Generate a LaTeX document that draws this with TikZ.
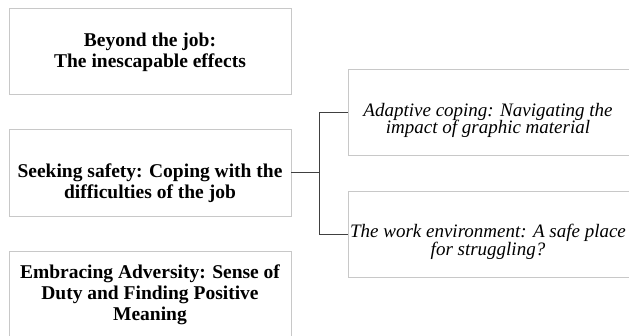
\documentclass[tikz,border=0pt]{standalone}
\usepackage{fontspec}
\setmainfont{Liberation Serif}
\definecolor{boxgray}{HTML}{C8C8C8}
\definecolor{linegray}{HTML}{404040}
\begin{document}
\begin{tikzpicture}[x=1pt,y=-1pt,
  box/.style={draw=boxgray,line width=0.9pt,inner sep=0pt,rectangle},
  bold/.style={font=\fontsize{19.5}{21}\selectfont\bfseries,align=center,inner sep=0pt},
  ital/.style={font=\fontsize{19}{17.5}\selectfont\itshape,align=center,inner sep=0pt},
  conn/.style={draw=linegray,line width=0.9pt}]
\useasboundingbox (0,0) rectangle (629,336);
\clip (0,0) rectangle (629,336);
\node[box,minimum width=282pt,minimum height=86pt] (b1) at (150,51) {};
\node[box,minimum width=282pt,minimum height=87pt] (b2) at (150,172.5) {};
\node[box,minimum width=282pt,minimum height=94pt] (b3) at (150,298) {};
\node[box,minimum width=290pt,minimum height=86pt] (r1) at (493,112) {};
\node[box,minimum width=290pt,minimum height=86pt] (r2) at (493,234) {};
\node[bold] (t1) at (150,52) {Beyond the job:\\The inescapable effects};
\node[bold] (t2) at (150,183) {Seeking safety: Coping with the\\difficulties of the job};
\node[bold] (t3) at (150,295) {Embracing Adversity: Sense of\\Duty and Finding Positive\\Meaning};
\node[ital] (t4) at (488,120.5) {Adaptive coping: Navigating the\\impact of graphic material};
\node[ital] (t5) at (488,242) {The work environment: A safe place\\for struggling?};
\draw[conn] (b2.east) -- ++(28,0) coordinate (j);
\draw[conn] (r1.west) -| (j) |- (r2.west);
\end{tikzpicture}
\end{document}
